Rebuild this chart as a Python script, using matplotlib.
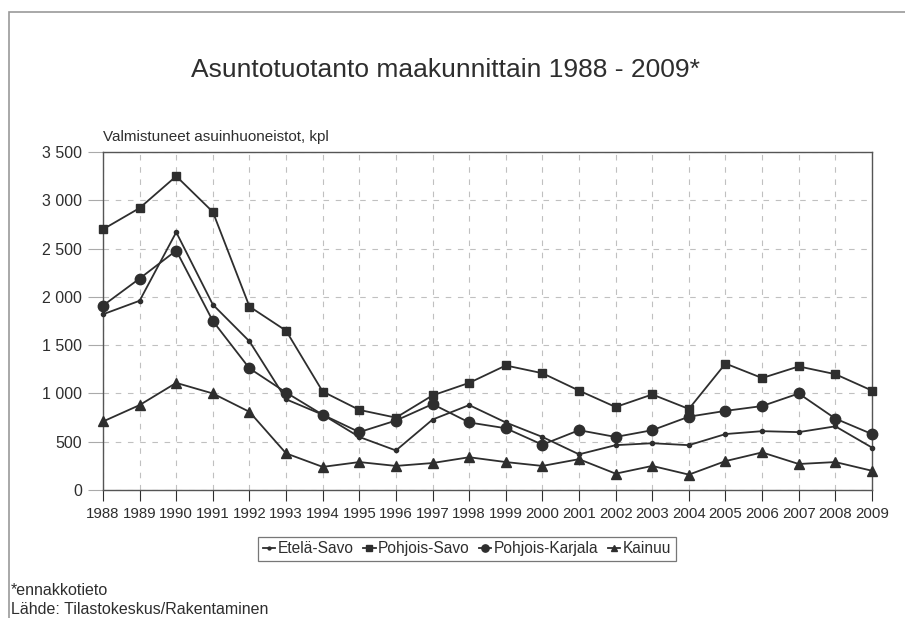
import matplotlib.pyplot as plt
from matplotlib.patches import Rectangle

plt.rcParams['font.family'] = ['Liberation Sans', 'DejaVu Sans']

years = list(range(1988, 2010))
etela_savo = [1820, 1960, 2670, 1920, 1540, 940, 780, 550, 410, 730, 880, 700,
              550, 370, 465, 485, 465, 580, 610, 600, 660, 440]
pohjois_savo = [2700, 2920, 3250, 2880, 1900, 1650, 1020, 830, 750, 980, 1110, 1290,
                1210, 1030, 860, 990, 840, 1310, 1160, 1280, 1200, 1030]
pohjois_karjala = [1910, 2190, 2480, 1750, 1260, 1010, 780, 600, 720, 890, 700, 640,
                   470, 620, 550, 620, 760, 820, 870, 1000, 740, 580]
kainuu = [710, 880, 1110, 1000, 810, 380, 240, 290, 250, 280, 340, 290,
          250, 320, 170, 250, 160, 300, 390, 270, 290, 200]
y_ticks = [0, 500, 1000, 1500, 2000, 2500, 3000, 3500]
y_labels = ['0', '500', '1 000', '1 500', '2 000', '2 500', '3 000', '3 500']

dark = '#2e2e2e'
fig = plt.figure(figsize=(9.05, 6.18), dpi=100)
ax = fig.add_axes([0.1138, 0.207, 0.8497, 0.547])

series = [
    ('Etelä-Savo', etela_savo, 'o', 3),
    ('Pohjois-Savo', pohjois_savo, 's', 6),
    ('Pohjois-Karjala', pohjois_karjala, 'o', 7.5),
    ('Kainuu', kainuu, '^', 7),
]
for name, vals, mk, ms in series:
    ax.plot(years, vals, color=dark, lw=1.3, marker=mk, markersize=ms,
            label=name, clip_on=False, zorder=3)

ax.set_xlim(1988, 2009)
ax.set_ylim(0, 3500)
ax.set_xticks(years)
ax.set_xticklabels([str(y) for y in years], fontsize=10.8, color=dark)
ax.set_yticks(y_ticks)
ax.set_yticklabels(y_labels, fontsize=11.5, color=dark)
ax.tick_params(axis='x', direction='out', length=8, color=dark, pad=4)
ax.tick_params(axis='y', direction='out', length=11, color='#aaaaaa', pad=4)
ax.grid(True, color='#c0c0c0', linestyle=(0, (5, 6)), lw=0.8)
for s in ax.spines.values():
    s.set_color('#555555')
    s.set_linewidth(1.0)

fig.text(0.492, 0.887, 'Asuntotuotanto maakunnittain 1988 - 2009*',
         ha='center', va='center', fontsize=19, color=dark)
fig.text(0.1138, 0.778, 'Valmistuneet asuinhuoneistot, kpl',
         ha='left', va='center', fontsize=11, color=dark)

leg = fig.legend(loc='center', bbox_to_anchor=(0.516, 0.112), ncol=4,
                 fontsize=11.2, frameon=True, fancybox=False, handlelength=0.8,
                 handletextpad=0.15, columnspacing=0.6, borderpad=0.3,
                 markerscale=0.7)
leg.get_frame().set_edgecolor('#555555')
leg.get_frame().set_linewidth(0.9)
for t in leg.get_texts():
    t.set_color(dark)

fig.text(0.012, 0.045, '*ennakkotieto', ha='left', va='center', fontsize=11.5, color=dark)
fig.text(0.012, 0.014, 'Lähde: Tilastokeskus/Rakentaminen', ha='left', va='center',
         fontsize=11.5, color=dark)

fig.patches.append(Rectangle((9 / 905, -0.1), 1.2, 1 - 12 / 618 + 0.1,
                             transform=fig.transFigure, fill=False,
                             edgecolor='#999999', lw=1.2))

fig.savefig('out.png', dpi=100)
